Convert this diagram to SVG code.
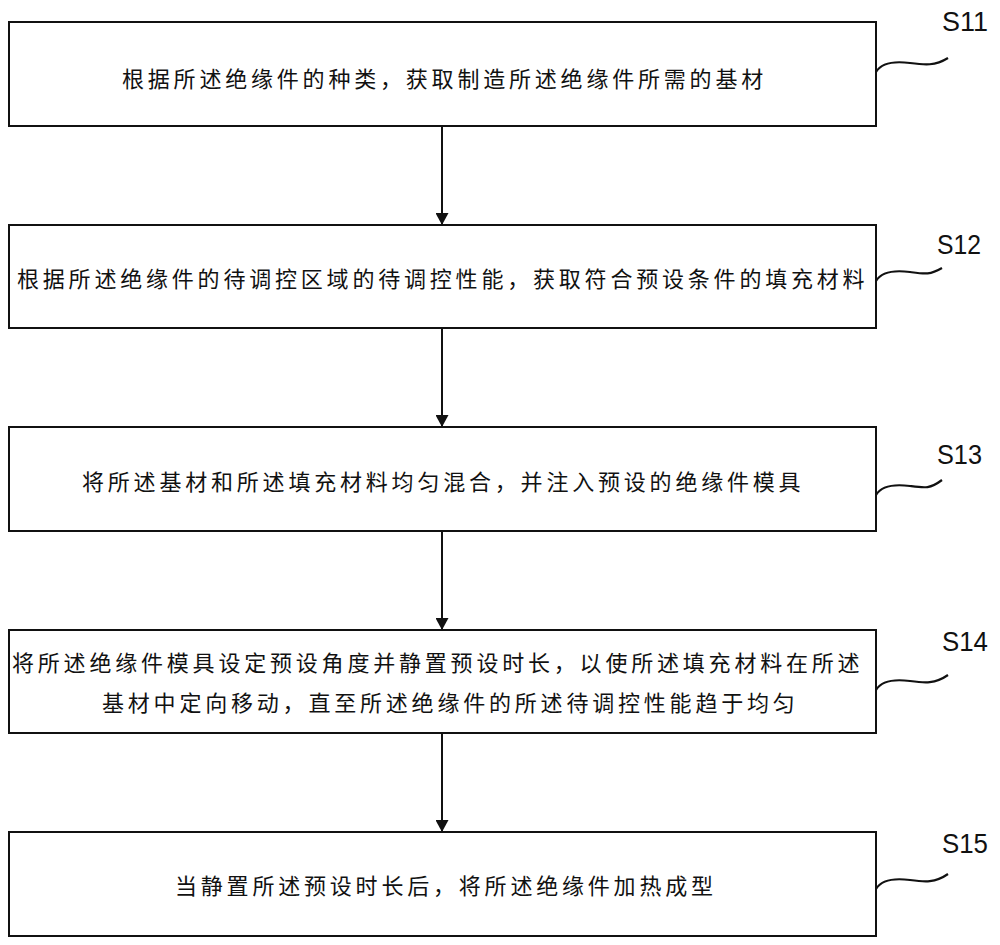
<svg xmlns="http://www.w3.org/2000/svg" width="1000" height="945" viewBox="0 0 1000 945">
<style>
.box{fill:#fff;stroke:#111;stroke-width:2}
.t{font-family:"Noto Sans CJK SC","Noto Sans",sans-serif;font-size:22px;letter-spacing:3.8px;fill:#111;dominant-baseline:central}
.lbl{font-family:"Liberation Sans",Arial,sans-serif;font-size:28px;fill:#111}
.sq{fill:none;stroke:#111;stroke-width:2.2}
.ar{stroke:#111;stroke-width:2;fill:none}
</style>
<defs>
<marker id="ah" viewBox="0 0 12 13" refX="12" refY="6.5" markerWidth="12" markerHeight="13" markerUnits="userSpaceOnUse" orient="auto">
<path d="M0,0 L12,6.5 L0,13 z" fill="#111"/>
</marker>
</defs>
<rect width="1000" height="945" fill="#fff"/>
<g id="connectors">
<line class="ar" x1="442" y1="126" x2="442" y2="225" marker-end="url(#ah)"/>
<line class="ar" x1="442" y1="328" x2="442" y2="427" marker-end="url(#ah)"/>
<line class="ar" x1="442" y1="531" x2="442" y2="630" marker-end="url(#ah)"/>
<line class="ar" x1="442" y1="733" x2="442" y2="832" marker-end="url(#ah)"/>
</g>
<g id="S11">
<rect class="box" x="9" y="22" width="867" height="104"/>
<text class="t" x="122" y="77">根据所述绝缘件的种类，获取制造所述绝缘件所需的基材</text>
<path class="sq" d="M876,72 C882,62 895,61 910,63 S935,66 948,58"/>
<text class="lbl" x="942" y="31" textLength="46" lengthAdjust="spacingAndGlyphs">S11</text>
</g>
<g id="S12">
<rect class="box" x="9" y="225" width="867" height="103"/>
<text class="t" x="17" y="277">根据所述绝缘件的待调控区域的待调控性能，获取符合预设条件的填充材料</text>
<path class="sq" d="M876,281 C882,271 895,270 910,272 S930,275 942,268"/>
<text class="lbl" x="937" y="254" textLength="44" lengthAdjust="spacingAndGlyphs">S12</text>
</g>
<g id="S13">
<rect class="box" x="9" y="427" width="867" height="104"/>
<text class="t" x="82" y="480">将所述基材和所述填充材料均匀混合，并注入预设的绝缘件模具</text>
<path class="sq" d="M876,495 C882,485 895,484 910,486 S930,489 942,480"/>
<text class="lbl" x="937" y="464" textLength="45" lengthAdjust="spacingAndGlyphs">S13</text>
</g>
<g id="S14">
<rect class="box" x="9" y="630" width="867" height="103"/>
<text class="t" x="12" y="661">将所述绝缘件模具设定预设角度并静置预设时长，以使所述填充材料在所述</text>
<text class="t" x="102" y="701">基材中定向移动，直至所述绝缘件的所述待调控性能趋于均匀</text>
<path class="sq" d="M876,690 C882,680 895,679 910,681 S935,684 948,675"/>
<text class="lbl" x="942" y="651" textLength="46" lengthAdjust="spacingAndGlyphs">S14</text>
</g>
<g id="S15">
<rect class="box" x="9" y="832" width="867" height="104"/>
<text class="t" x="175" y="884">当静置所述预设时长后，将所述绝缘件加热成型</text>
<path class="sq" d="M876,889 C882,879 895,878 910,880 S935,883 948,874"/>
<text class="lbl" x="942" y="853" textLength="46" lengthAdjust="spacingAndGlyphs">S15</text>
</g>
</svg>
